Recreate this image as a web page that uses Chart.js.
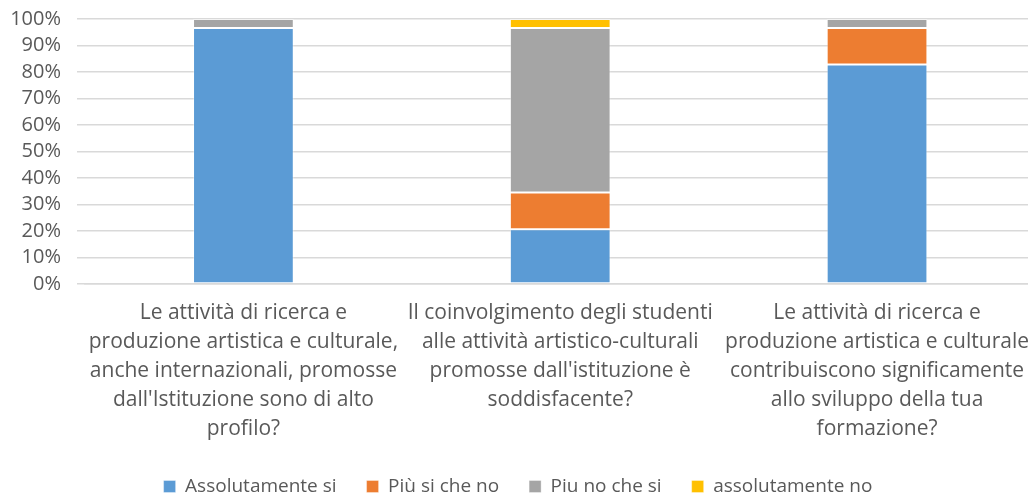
<!DOCTYPE html>
<html>
<head>
<meta charset="utf-8">
<script src="https://cdn.jsdelivr.net/npm/chart.js@4/dist/chart.umd.min.js"></script>
<style>
  html, body { margin: 0; padding: 0; background: #fff; overflow: hidden; }
  #wrap { width: 1036px; height: 520px; margin-top: -9px; }
</style>
</head>
<body>
<div id="wrap"><canvas id="chart"></canvas></div>
<script>
const categories = [
  ['Le attività di ricerca e', 'produzione artistica e culturale,', 'anche internazionali, promosse', "dall'Istituzione sono di alto", 'profilo?'],
  ['Il coinvolgimento degli studenti', 'alle attività artistico-culturali', "promosse dall'istituzione è", 'soddisfacente?'],
  ['Le attività di ricerca e', 'produzione artistica e culturale', 'contribuiscono significamente', 'allo sviluppo della tua', 'formazione?']
];
const seriesNames = ['Assolutamente si', 'Più si che no', 'Piu no che si', 'assolutamente no'];
const assolutamenteSi = [96.6, 20.7, 82.8];
const piuSiCheNo = [0, 13.8, 13.8];
const piuNoCheSi = [3.4, 62.1, 3.4];
const assolutamenteNo = [0, 3.4, 0];
const colors = ['#5b9bd5', '#ed7d31', '#a5a5a5', '#ffc000'];

const font = "'Open Sans', 'Noto Sans', sans-serif";
const values = [assolutamenteSi, piuSiCheNo, piuNoCheSi, assolutamenteNo];

new Chart(document.getElementById('chart').getContext('2d'), {
  type: 'bar',
  data: {
    labels: categories,
    datasets: values.map((v, i) => ({
      label: seriesNames[i],
      data: v,
      backgroundColor: colors[i],
      borderColor: 'rgba(255,255,255,0.35)',
      borderWidth: 1,
      borderSkipped: false,
      categoryPercentage: 1,
      barPercentage: 0.318
    }))
  },
  options: {
    responsive: true,
    maintainAspectRatio: false,
    animation: false,
    layout: { padding: { top: 0, right: 0, bottom: 5, left: 0 } },
    plugins: {
      tooltip: { enabled: false },
      legend: {
        position: 'bottom',
        labels: {
          color: '#595959',
          font: { family: font, size: 19 },
          boxWidth: 12,
          boxHeight: 12,
          padding: 30
        }
      }
    },
    scales: {
      x: {
        stacked: true,
        grid: { display: false },
        border: { color: '#d9d9d9', width: 1.5 },
        afterFit: s => { s.height = 163; },
        ticks: {
          color: '#595959',
          font: { family: font, size: 21, lineHeight: 1.38 },
          maxRotation: 0,
          autoSkip: false,
          padding: 7
        }
      },
      y: {
        stacked: true,
        min: 0,
        max: 100,
        afterFit: s => { s.width = 85; },
        grid: { color: '#d9d9d9', lineWidth: 1.5 },
        border: { display: false },
        ticks: {
          stepSize: 10,
          autoSkip: false,
          color: '#595959',
          font: { family: font, size: 20 },
          padding: 16,
          callback: v => v + '%'
        }
      }
    }
  }
});
</script>
</body>
</html>
